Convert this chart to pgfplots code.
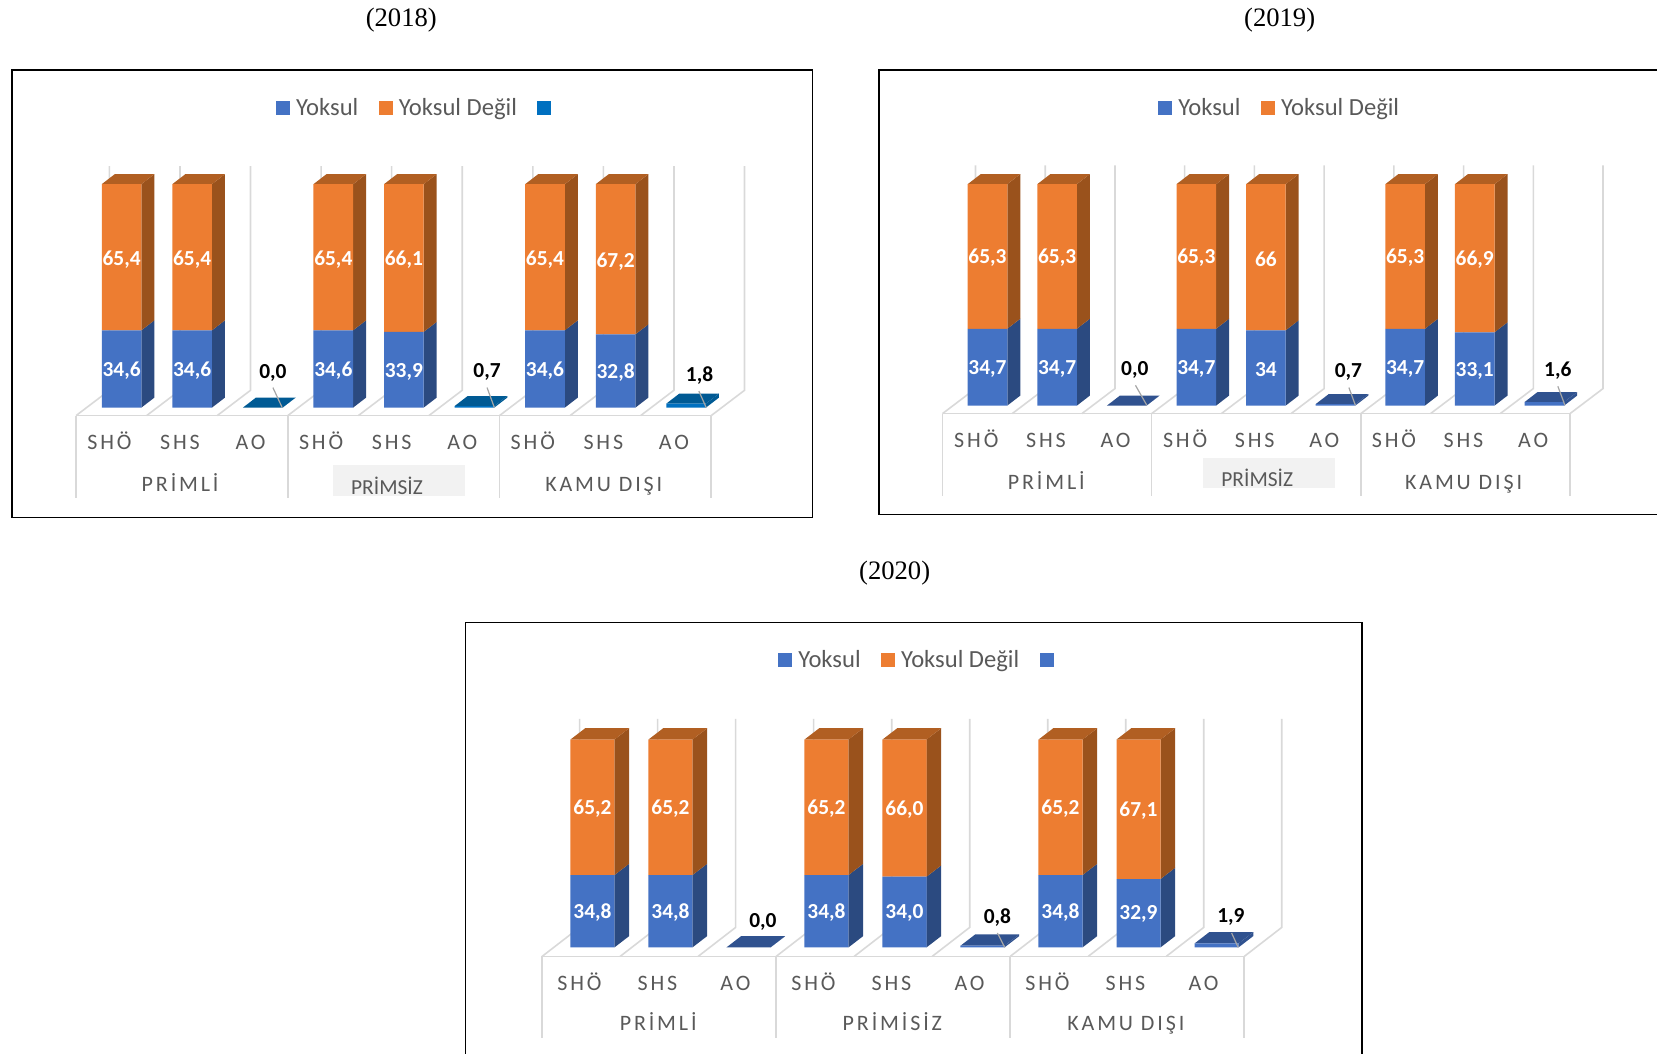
\documentclass[border=0pt]{standalone}
\usepackage{fontspec}
\usepackage{pgfplots}
\usepackage{pgfplotstable}
\pgfplotsset{compat=1.18}
\setmainfont{Carlito}
\newfontfamily\timesf{Liberation Serif}
\newfontfamily\spaced[LetterSpace=13]{Carlito}
\definecolor{ba}{HTML}{4472C4}
\definecolor{bs}{HTML}{2B4A80}
\definecolor{bt}{HTML}{30528F}
\definecolor{oa}{HTML}{ED7D31}
\definecolor{os}{HTML}{9A521C}
\definecolor{ot}{HTML}{B15F22}
\definecolor{ca}{HTML}{0070C0}
\definecolor{ct}{HTML}{005A94}
\definecolor{gl}{HTML}{D9D9D9}
\definecolor{tx}{HTML}{595959}
\definecolor{pb}{HTML}{F2F2F2}
\definecolor{ld}{HTML}{A6A6A6}

\pgfplotstableread{
x Y N A yl nl
0 34.6 65.4 0 34,6 65,4
1 34.6 65.4 0 34,6 65,4
2 0 0 0.0 {} {}
3 34.6 65.4 0 34,6 65,4
4 33.9 66.1 0 33,9 66,1
5 0 0 0.7 {} {}
6 34.6 65.4 0 34,6 65,4
7 32.8 67.2 0 32,8 67,2
8 0 0 1.8 {} {}
}\tA
\pgfplotstableread{
x Y N A yl nl
0 34.7 65.3 0 34,7 65,3
1 34.7 65.3 0 34,7 65,3
2 0 0 0.0 {} {}
3 34.7 65.3 0 34,7 65,3
4 34.0 66.0 0 34 66
5 0 0 0.7 {} {}
6 34.7 65.3 0 34,7 65,3
7 33.1 66.9 0 33,1 66,9
8 0 0 1.6 {} {}
}\tB
\pgfplotstableread{
x Y N A yl nl
0 34.8 65.2 0 34,8 65,2
1 34.8 65.2 0 34,8 65,2
2 0 0 0.0 {} {}
3 34.8 65.2 0 34,8 65,2
4 34.0 66.0 0 34,0 66,0
5 0 0 0.8 {} {}
6 34.8 65.2 0 34,8 65,2
7 32.9 67.1 0 32,9 67,1
8 0 0 1.9 {} {}
}\tC

\newcommand\faceside[4]{%
  \pgfmathsetmacro\xa{#1+\HW}\pgfmathsetmacro\xb{\xa+\DX}%
  \pgfmathsetmacro\ya{#2+\DY}\pgfmathsetmacro\yb{#3+\DY}%
  \addplot[fill=#4,draw=none,forget plot] coordinates {(\xa,#2)(\xb,\ya)(\xb,\yb)(\xa,#3)} --cycle;}
\newcommand\facetop[3]{%
  \pgfmathsetmacro\xa{#1-\HW}\pgfmathsetmacro\xb{\xa+\DX}%
  \pgfmathsetmacro\xc{#1+\HW}\pgfmathsetmacro\xd{\xc+\DX}%
  \pgfmathsetmacro\ya{#2+\DY}%
  \addplot[fill=#3,draw=none,forget plot] coordinates {(\xa,#2)(\xb,\ya)(\xd,\ya)(\xc,#2)} --cycle;}
% i, blue value, orange value
\newcommand\stackfaces[3]{%
  \faceside{#1}{0}{#2}{bs}%
  \pgfmathsetmacro\ss{#2+#3}\edef\sss{\ss}%
  \faceside{#1}{#2}{\sss}{os}%
  \facetop{#1}{\sss}{ot}}
\newcommand\aofaces[4]{% i value side top
  \faceside{#1}{0}{#2}{#3}%
  \facetop{#1}{#2}{#4}}

\pgfplotsset{
  panel/.style={scale only axis,anchor=south west,xmin=-0.5,xmax=8.5,ymin=0,ymax=100,clip=false},
  leg/.style={
    legend style={draw=none,fill=none,inner sep=0pt,anchor=center,
      font=\fontsize{12.3}{14}\selectfont,text=tx,legend columns=3,
      nodes={inner xsep=3pt,inner ysep=0pt},
      /tikz/column 2/.style={column sep=7.2pt},
      /tikz/column 4/.style={column sep=7.2pt}},
    legend cell align=left,
    legend image code/.code={\path[##1,draw=none] (0pt,-3.5pt) rectangle (7pt,3.5pt);}},
  bars/.style={panel,ybar stacked,ytick=\empty,
    axis line style={draw=none},major tick length=0pt,
    xtick={0,...,8},
    xticklabels={SHÖ,SHS,AO,SHÖ,SHS,AO,SHÖ,SHS,AO},
    x tick label style={anchor=base,font=\spaced\fontsize{11}{13}\selectfont,text=tx},
    tick label style={inner sep=0pt}},
  lab/.style={draw=none,mark=none,forget plot,point meta=explicit symbolic,nodes near coords,
    every node near coord/.append style={anchor=center,text=white,inner sep=0pt,
      font=\bfseries\fontsize{10.7}{12}\selectfont,yshift=#1}}
}
\tikzset{
  gridl/.style={draw=gl,line width=0.8pt},
  grp/.style={anchor=base,text=tx,font=\spaced\fontsize{11}{13}\selectfont},
  prm/.style={anchor=base,text=tx,font=\fontsize{10.7}{13}\selectfont},
  ttl/.style={anchor=center,font=\timesf\fontsize{13.3}{15}\selectfont},
  aol/.style={anchor=base,font=\bfseries\fontsize{10.7}{12}\selectfont},
  ldr/.style={draw=ld,line width=0.6pt}
}
% L front-left, s spacing, yf front y, yb back y, yt top y, dx floor depth, bot divider end
\newcommand\floorgrid[7]{%
  \foreach \i in {0,...,9}{%
    \pgfmathsetmacro\fx{#1+\i*#2}\pgfmathsetmacro\bx{\fx+#6}%
    \draw[gridl] (\fx,#3)--(\bx,#4)--(\bx,#5);}%
  \pgfmathsetmacro\fe{#1+9*#2}%
  \draw[gridl] (#1,#3)--(\fe,#3);%
  \foreach \i in {0,3,6,9}{%
    \pgfmathsetmacro\fx{#1+\i*#2}%
    \draw[gridl] (\fx,#3)--(\fx,#7);}}

\begin{document}
\begin{tikzpicture}
\path[use as bounding box] (0,0) rectangle (824.8bp,-524.6bp);
\begin{scope}[x=0.5pt,y=-0.5pt]
  \node[ttl] at (401,20) {(2018)};
  \node[ttl] at (1278.7,20) {(2019)};
  \node[ttl] at (894,572.6) {(2020)};
  \draw[black,line width=0.8pt] (11.7,517)--(11.7,70)--(812,70)--(812,517)--cycle;
  \draw[black,line width=0.8pt] (1660,514)--(878.5,514)--(878.5,70)--(1660,70);
  \draw[black,line width=0.8pt] (465,1060)--(465,622)--(1360.7,622)--(1360.7,1060);
  \floorgrid{76}{70.52}{415.3}{390}{166}{33.3}{498}
  \floorgrid{941.8}{69.67}{413.3}{388.3}{165.3}{33}{495.7}
  \floorgrid{541.7}{77.96}{955.7}{926.7}{718.3}{37.5}{1037.7}
  \fill[pb] (332.7,465) rectangle (465,495.3);
  \fill[pb] (1202.3,458) rectangle (1334.4,487.7);
  \node[grp] at (180,491) {PRİMLİ};
  \node[prm] at (386.7,494) {PRİMSİZ};
  \node[grp] at (603.3,491) {KAMU DIŞI};
  \node[grp] at (1045.5,489.3) {PRİMLİ};
  \node[prm] at (1256.3,486) {PRİMSİZ};
  \node[grp] at (1462.5,489.3) {KAMU DIŞI};
  \node[grp] at (657.7,1030) {PRİMLİ};
  \node[grp] at (891.7,1030) {PRİMİSİZ};
  \node[grp] at (1125,1030) {KAMU DIŞI};
\end{scope}

%% ---- 2018
\begin{axis}[panel,hide axis,at={(43.12pt,-203.65pt)},width=317.35pt,height=111.65pt]
\def\HW{0.2808}\def\DX{0.1843}\def\DY{4.478}
\stackfaces{0}{34.6}{65.4}\stackfaces{1}{34.6}{65.4}
\stackfaces{3}{34.6}{65.4}\stackfaces{4}{33.9}{66.1}
\stackfaces{6}{34.6}{65.4}\stackfaces{7}{32.8}{67.2}
\aofaces{2}{0.0}{ct}{ct}\aofaces{5}{0.7}{ct}{ct}\aofaces{8}{1.8}{ct}{ct}
\end{axis}
\begin{axis}[bars,leg,at={(43.12pt,-203.65pt)},width=317.35pt,height=111.65pt,bar width=19.8pt,
  legend style={at={(0.5282,1.3403)}},
  x tick label style={xshift=-6.1pt,yshift=-21pt}]
\addplot[fill=ba,draw=none] table[x=x,y=Y]{\tA};
\addlegendentry{Yoksul}
\addplot[fill=oa,draw=none] table[x=x,y=N]{\tA};
\addlegendentry{Yoksul Değil}
\addplot[fill=ca,draw=none] table[x=x,y=A]{\tA};
\addlegendentry{\,}
\end{axis}
\begin{axis}[panel,hide axis,at={(43.12pt,-203.65pt)},width=317.35pt,height=111.65pt]
\addplot[lab=-1pt] table[x=x,y expr=\thisrow{Y}/2,meta=yl]{\tA};
\addplot[lab=-1pt] table[x=x,y expr=\thisrow{Y}+\thisrow{N}/2,meta=nl]{\tA};
\end{axis}

%% ---- 2019
\begin{axis}[panel,hide axis,at={(476pt,-202.65pt)},width=313pt,height=110.65pt]
\def\HW{0.2842}\def\DX{0.1866}\def\DY{4.519}
\stackfaces{0}{34.7}{65.3}\stackfaces{1}{34.7}{65.3}
\stackfaces{3}{34.7}{65.3}\stackfaces{4}{34.0}{66.0}
\stackfaces{6}{34.7}{65.3}\stackfaces{7}{33.1}{66.9}
\aofaces{2}{0.0}{bt}{bt}\aofaces{5}{0.7}{bt}{bt}\aofaces{8}{1.6}{bt}{bt}
\end{axis}
\begin{axis}[bars,leg,at={(476pt,-202.65pt)},width=313pt,height=110.65pt,bar width=19.8pt,
  legend style={at={(0.5252,1.3434)}},
  x tick label style={xshift=-5.6pt,yshift=-21pt}]
\addplot[fill=ba,draw=none] table[x=x,y=Y]{\tB};
\addlegendentry{Yoksul}
\addplot[fill=oa,draw=none] table[x=x,y=N]{\tB};
\addlegendentry{Yoksul Değil}
\addplot[fill=ba,draw=none,forget plot] table[x=x,y=A]{\tB};
\end{axis}
\begin{axis}[panel,hide axis,at={(476pt,-202.65pt)},width=313pt,height=110.65pt]
\addplot[lab=-0.8pt] table[x=x,y expr=\thisrow{Y}/2,meta=yl]{\tB};
\addplot[lab=-0.8pt] table[x=x,y expr=\thisrow{Y}+\thisrow{N}/2,meta=nl]{\tB};
\end{axis}

%% ---- 2020
\begin{axis}[panel,hide axis,at={(276.51pt,-473.35pt)},width=350.8pt,height=103.85pt]
\def\HW{0.2821}\def\DX{0.1885}\def\DY{5.44}
\stackfaces{0}{34.8}{65.2}\stackfaces{1}{34.8}{65.2}
\stackfaces{3}{34.8}{65.2}\stackfaces{4}{34.0}{66.0}
\stackfaces{6}{34.8}{65.2}\stackfaces{7}{32.9}{67.1}
\aofaces{2}{0.0}{bt}{bt}\aofaces{5}{0.8}{bt}{bt}\aofaces{8}{1.9}{bt}{bt}
\end{axis}
\begin{axis}[bars,leg,at={(276.51pt,-473.35pt)},width=350.8pt,height=103.85pt,bar width=22pt,
  legend style={at={(0.5279,1.3804)}},
  x tick label style={xshift=-6.5pt,yshift=-21.3pt}]
\addplot[fill=ba,draw=none] table[x=x,y=Y]{\tC};
\addlegendentry{Yoksul}
\addplot[fill=oa,draw=none] table[x=x,y=N]{\tC};
\addlegendentry{Yoksul Değil}
\addplot[fill=ba,draw=none] table[x=x,y=A]{\tC};
\addlegendentry{\,}
\end{axis}
\begin{axis}[panel,hide axis,at={(276.51pt,-473.35pt)},width=350.8pt,height=103.85pt]
\addplot[lab=-0.5pt] table[x=x,y expr=\thisrow{Y}/2,meta=yl]{\tC};
\addplot[lab=-0.5pt] table[x=x,y expr=\thisrow{Y}+\thisrow{N}/2,meta=nl]{\tC};
\end{axis}

\begin{scope}[x=0.5pt,y=-0.5pt]
  \draw[ldr] (272.7,387.3)--(282,407.3);
  \draw[ldr] (486.7,387.3)--(494,407.3);
  \draw[ldr] (698.3,390.7)--(705.7,407.3);
  \node[aol] at (272.7,378) {0,0};
  \node[aol] at (486.7,377) {0,7};
  \node[aol] at (699,381) {1,8};
  \draw[ldr] (1134.6,385)--(1146,405);
  \draw[ldr] (1347.9,387.3)--(1354.4,405);
  \draw[ldr] (1556.7,386)--(1563.8,405);
  \node[aol] at (1134,375.4) {0,0};
  \node[aol] at (1347.4,377.7) {0,7};
  \node[aol] at (1556.7,376.4) {1,6};
  \draw[ldr] (996.7,932.3)--(1004,946.7);
  \draw[ldr] (1230.7,932.3)--(1237.3,946.7);
  \node[aol] at (762.3,926.4) {0,0};
  \node[aol] at (996.7,923) {0,8};
  \node[aol] at (1230,922) {1,9};
\end{scope}
\end{tikzpicture}
\end{document}
